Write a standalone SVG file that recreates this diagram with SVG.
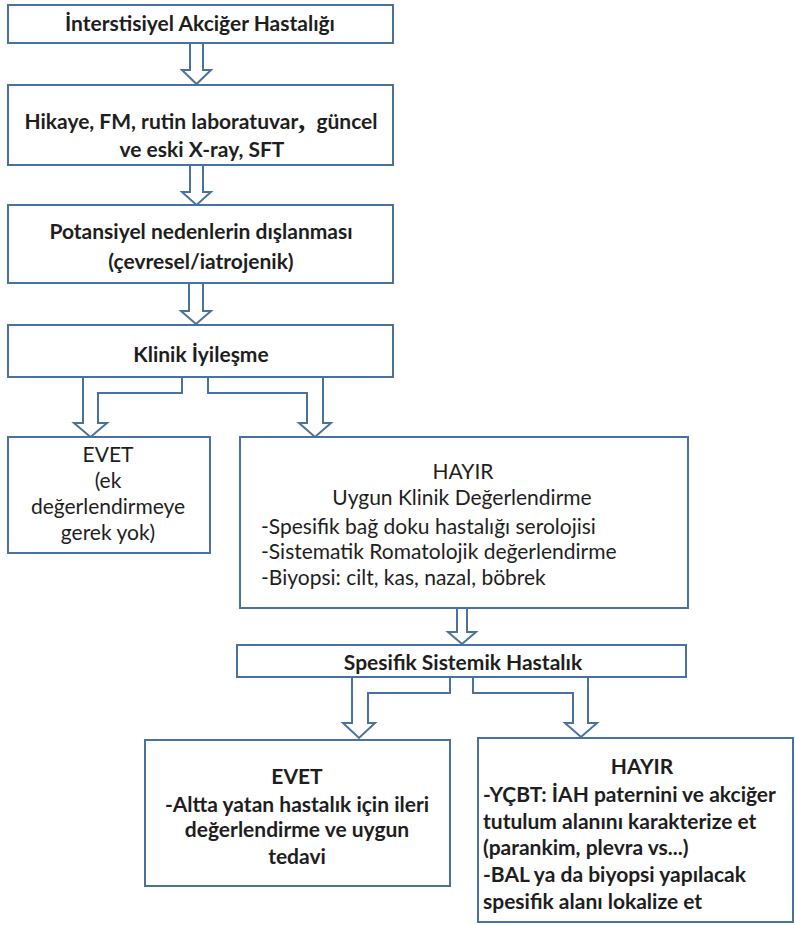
<svg xmlns="http://www.w3.org/2000/svg" width="795" height="925" viewBox="0 0 795 925">
<style>
.box{fill:#fff;stroke:#4a72a0;stroke-width:2}
.arr{fill:#fff;stroke:#4a72a0;stroke-width:2;stroke-linejoin:miter}
text{font-family:Lato,"Open Sans","Liberation Sans",sans-serif;fill:#1e1e1e;font-size:21px}
.b{font-weight:bold}
.sb{font-weight:bold}
.m{font-weight:normal}
.c{text-anchor:middle}
</style>
<rect width="795" height="925" fill="#fff"/>
<g id="connectors">
<polygon class="arr" points="190,43 190,70 182,70 196.5,84 211,70 203,70 203,43"/>
<polygon class="arr" points="190,165 190,192 182,192 196.5,205 211,192 203,192 203,165"/>
<polygon class="arr" points="189,283 189,311 181,311 196,324 211,311 203,311 203,283"/>
<polygon class="arr" points="182,377 182,393 98,393 98,423 107,423 90.5,437 74,423 83,423 83,377"/>
<polygon class="arr" points="208,377 208,393 307,393 307,423 299,423 315,437 331,423 323,423 323,377"/>
<polygon class="arr" points="457,608 457,632 448,632 462,644 476,632 467,632 467,608"/>
<polygon class="arr" points="450,677 450,693 368,693 368,723 375,723 359,738 343,723 352,723 352,677"/>
<polygon class="arr" points="473,677 473,693 573,693 573,723 565,723 581,737 597,723 588,723 588,677"/>
</g>
<g id="n1">
<rect class="box" x="8" y="5" width="385" height="38"/>
<text class="b c" x="200" y="31" font-size="20.5">İnterstisiyel Akciğer Hastalığı</text>
</g>
<g id="n2">
<rect class="box" x="8" y="85" width="385" height="80"/>
<text class="b c" x="201" y="129">Hikaye, FM, rutin laboratuvar<tspan font-size="28" font-family="Liberation Serif, serif" font-weight="bold">,</tspan><tspan dx="6"> güncel</tspan></text>
<text class="b c" x="202" y="157">ve eski X-ray, SFT</text>
</g>
<g id="n3">
<rect class="box" x="8" y="205" width="385" height="78"/>
<text class="b c" x="201" y="239">Potansiyel nedenlerin dışlanması</text>
<text class="b c" x="201" y="269">(çevresel/iatrojenik)</text>
</g>
<g id="n4">
<rect class="box" x="8" y="325" width="385" height="52"/>
<text class="b c" x="201" y="362">Klinik İyileşme</text>
</g>
<g id="n5">
<rect class="box" x="8" y="437" width="202" height="116"/>
<text class="m c" x="108" y="462">EVET</text>
<text class="m c" x="108" y="488">(ek</text>
<text class="m c" x="108" y="514">değerlendirmeye</text>
<text class="m c" x="108" y="540">gerek yok)</text>
</g>
<g id="n6">
<rect class="box" x="240" y="437" width="448" height="171"/>
<text class="m c" x="463" y="479">HAYIR</text>
<text class="m c" x="462" y="505">Uygun Klinik Değerlendirme</text>
<text class="m" x="261" y="534">-Spesifik bağ doku hastalığı serolojisi</text>
<text class="m" x="261" y="559">-Sistematik Romatolojik değerlendirme</text>
<text class="m" x="261" y="585">-Biyopsi: cilt, kas, nazal, böbrek</text>
</g>
<g id="n7">
<rect class="box" x="237" y="645" width="449" height="32"/>
<text class="b c" x="463" y="670" font-size="20.5">Spesifik Sistemik Hastalık</text>
</g>
<g id="n8">
<rect class="box" x="145" y="740" width="305" height="146"/>
<text class="sb c" x="297" y="784">EVET</text>
<text class="sb c" x="297" y="812">-Altta yatan hastalık için ileri</text>
<text class="sb c" x="297" y="837">değerlendirme ve uygun</text>
<text class="sb c" x="297" y="864">tedavi</text>
</g>
<g id="n9">
<rect class="box" x="478" y="738" width="315" height="184"/>
<text class="sb c" x="642" y="774">HAYIR</text>
<text class="sb" x="483" y="802">-YÇBT: İAH paternini ve akciğer</text>
<text class="sb" x="483" y="829">tutulum alanını karakterize et</text>
<text class="sb" x="483" y="855">(parankim, plevra vs...)</text>
<text class="sb" x="483" y="882">-BAL ya da biyopsi yapılacak</text>
<text class="sb" x="483" y="909">spesifik alanı lokalize et</text>
</g>
</svg>
